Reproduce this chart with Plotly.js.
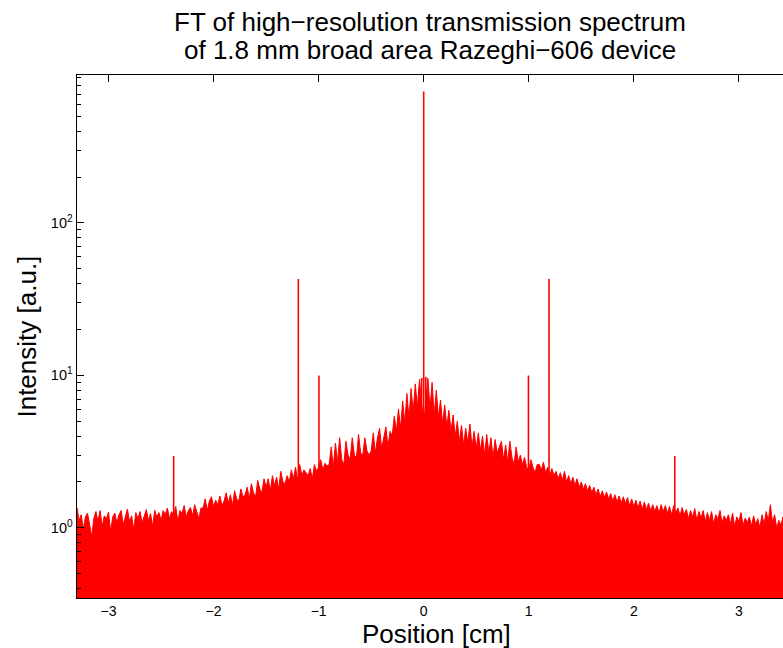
<!DOCTYPE html>
<html><head><meta charset="utf-8">
<script src="https://cdn.plot.ly/plotly-3.0.1.min.js"></script>
<style>body{margin:0;background:#fff}</style></head>
<body><div id="chart" style="width:783px;height:648px"></div>
<script>
// Uniform FT position grid (cm)
const posStart = -3.30;
const posStep = 0.02;
// Upper envelope of the dense noise body (a.u.)
const bodyIntensity = [
  1.35,1.12,1.22,0.98,1.18,1.25,1.05,0.88,1.15,1.28,
  1.10,1.30,1.02,1.20,1.15,1.27,0.95,1.18,1.25,1.08,
  1.22,1.30,1.05,1.17,1.33,1.10,1.20,0.97,1.26,1.15,
  1.28,1.08,1.20,1.32,1.12,1.24,1.02,1.30,1.18,1.26,
  1.12,1.30,1.22,1.35,1.15,1.28,1.20,1.38,1.10,1.30,
  1.25,1.40,1.18,1.30,1.36,1.20,1.42,1.28,1.15,1.35,
  1.35,1.55,1.30,1.50,1.60,1.38,1.52,1.42,1.62,1.40,
  1.50,1.70,1.45,1.65,1.40,1.75,1.55,1.50,1.80,1.60,
  1.65,1.85,1.55,1.95,1.70,1.60,2.05,1.80,1.70,2.10,
  1.85,2.10,1.75,2.20,1.90,2.15,1.80,2.35,2.00,1.95,
  2.20,2.00,2.40,2.10,2.50,2.05,2.60,2.20,2.40,2.30,
  2.20,2.45,2.10,2.60,2.35,2.50,2.80,2.40,2.65,2.55,
  2.60,3.40,2.50,3.60,2.70,3.90,2.80,2.60,3.70,3.00,
  2.80,3.90,3.00,2.90,4.10,3.10,3.00,3.90,3.20,3.00,
  3.20,4.20,3.10,3.90,4.50,3.30,3.80,4.60,3.40,4.30,
  4.00,5.40,4.30,6.00,4.50,6.80,4.90,7.60,5.20,8.20,
  5.80,8.80,6.20,9.40,6.50,5.00,6.60,9.60,6.00,9.00,
  5.50,8.00,5.30,6.90,4.80,6.40,4.60,5.90,4.30,5.50,
  4.00,5.00,3.70,4.70,3.50,4.50,3.60,4.80,3.40,4.30,
  3.30,4.20,3.20,4.00,3.00,4.10,3.10,3.90,2.90,3.80,
  3.10,3.40,3.70,2.80,3.50,2.70,3.70,2.90,2.60,3.40,
  2.70,3.00,2.60,2.90,2.50,2.40,2.80,2.50,2.30,2.60,
  2.60,2.40,2.70,2.30,2.50,2.20,2.45,2.20,2.35,2.10,
  2.30,2.05,2.35,2.00,2.20,1.95,2.15,1.90,2.10,1.85,
  2.00,1.80,1.95,1.75,1.90,1.70,1.85,1.65,1.80,1.60,
  1.75,1.58,1.72,1.55,1.68,1.50,1.65,1.48,1.62,1.45,
  1.60,1.45,1.58,1.40,1.55,1.38,1.52,1.35,1.50,1.32,
  1.48,1.32,1.45,1.30,1.42,1.28,1.40,1.25,1.42,1.28,
  1.40,1.25,1.38,1.22,1.40,1.25,1.35,1.20,1.36,1.22,
  1.32,1.15,1.30,1.18,1.34,1.12,1.28,1.16,1.30,1.10,
  1.26,1.12,1.28,1.06,1.22,1.14,1.30,1.08,1.20,1.12,
  1.22,1.06,1.25,1.02,1.18,1.10,1.26,1.04,1.16,1.08,
  1.18,1.03,1.20,1.05,1.15,1.00,1.22,1.06,1.28,1.12,
  1.42,1.08,1.22,1.00,1.12,1.04,1.18
];
// Distinct spectral peaks (cm, a.u.)
const peakPositions = [-2.38, -1.193, -0.997, -0.02, 0.0, 0.02, 0.997, 1.193, 2.39];
const peakIntensity = [2.96, 42.8, 10.0, 9.6, 727, 9.8, 10.0, 42.8, 2.96];
const floorIntensity = 0.2;

const xTickVals = [-3, -2, -1, 0, 1, 2, 3];
const xTickText = ['\u22123', '\u22122', '\u22121', '0', '1', '2', '3'];
const yTickVals = [1, 10, 100];
const yTickText = ['10<sup>0</sup>', '10<sup>1</sup>', '10<sup>2</sup>'];
const yMinorVals = [0.4,0.5,0.6,0.7,0.8,0.9,2,3,4,5,6,7,8,9,20,30,40,50,60,70,80,90,200,300,400,500,600,700,800,900];

// closed polygon: jagged envelope on top, floor below
const bx = [], by = [];
bodyIntensity.forEach((v, i) => { bx.push(posStart + posStep * i); by.push(v); });
const lastX = posStart + posStep * (bodyIntensity.length - 1);
bx.push(lastX, posStart, posStart);
by.push(floorIntensity, floorIntensity, bodyIntensity[0]);

const px = [], py = [];
peakPositions.forEach((p, i) => {
  px.push(p, p, null);
  py.push(floorIntensity, peakIntensity[i], null);
});

const red = '#ff0000';
const font = 'Liberation Sans, Arial, Helvetica, sans-serif';
const data = [
  {x: bx, y: by, type: 'scatter', mode: 'lines', fill: 'toself', fillcolor: red,
   line: {color: red, width: 1}, hoverinfo: 'skip', showlegend: false},
  {x: px, y: py, type: 'scatter', mode: 'lines', line: {color: red, width: 1.6}, hoverinfo: 'skip', showlegend: false}
];
const plotH = 523, plotTop = 75;
const py2paper = p => (plotTop + plotH - p) / plotH;
const plotW = 706.5, plotLeft = 76.5;
const px2paper = p => (p - plotLeft) / plotW;
const bigFont = {size: 26, family: font, color: '#000'};
const layout = {
  width: 783, height: 648,
  margin: {l: 76.5, r: 0, t: 75, b: 50},
  paper_bgcolor: '#fff', plot_bgcolor: '#fff',
  font: {family: font, color: '#000'},
  annotations: [
    {text: 'FT of high\u2212resolution transmission spectrum', xref: 'paper', yref: 'paper',
     x: 0.5, y: py2paper(22), xanchor: 'center', yanchor: 'middle', showarrow: false, font: bigFont},
    {text: 'of 1.8 mm broad area Razeghi\u2212606 device', xref: 'paper', yref: 'paper',
     x: 0.5, y: py2paper(50), xanchor: 'center', yanchor: 'middle', showarrow: false, font: bigFont},
    {text: 'Position [cm]', xref: 'paper', yref: 'paper',
     x: px2paper(436), y: py2paper(634), xanchor: 'center', yanchor: 'middle', showarrow: false, font: bigFont},
    {text: 'Intensity [a.u.]', xref: 'paper', yref: 'paper', textangle: -90,
     x: px2paper(26), y: py2paper(337), xanchor: 'center', yanchor: 'middle', showarrow: false, font: bigFont}
  ],
  xaxis: {
    range: [-3.30, 3.42], type: 'linear',
    tickmode: 'array', tickvals: xTickVals, ticktext: xTickText,
    ticks: 'inside', ticklen: 7, tickcolor: '#000', tickwidth: 1,
    showline: true, linecolor: '#000', linewidth: 1, mirror: 'ticks',
    showgrid: false, zeroline: false, layer: 'below traces',
    tickfont: {size: 14, family: font, color: '#000'},
    automargin: false
  },
  yaxis: {
    type: 'log', range: [Math.log10(0.347), Math.log10(933)],
    tickmode: 'array', tickvals: yTickVals, ticktext: yTickText,
    ticks: 'inside', ticklen: 7, tickcolor: '#000', tickwidth: 1,
    minor: {tickmode: 'array', tickvals: yMinorVals, ticks: 'inside', ticklen: 4, tickcolor: '#000', showgrid: false},
    showline: true, linecolor: '#000', linewidth: 1.5, mirror: false,
    showgrid: false, zeroline: false,
    tickfont: {size: 14.5, family: font, color: '#000'},
    automargin: false
  }
};
Plotly.newPlot('chart', data, layout, {displayModeBar: false, staticPlot: true});
</script></body></html>
